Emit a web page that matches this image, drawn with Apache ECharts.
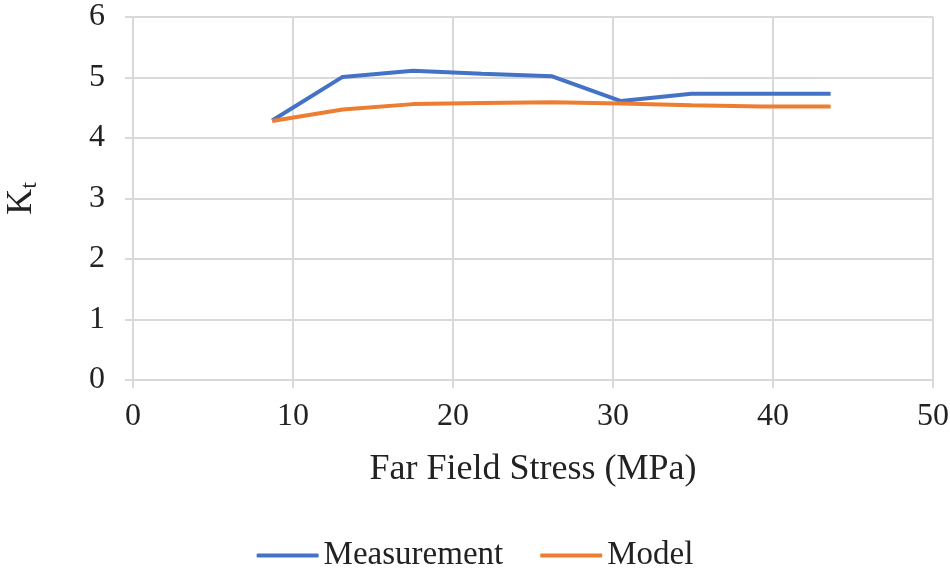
<!DOCTYPE html>
<html><head><meta charset="utf-8">
<script src="https://cdn.jsdelivr.net/npm/echarts@6/dist/echarts.min.js"></script>
<style>html,body{margin:0;padding:0;background:#fff}#c{width:950px;height:571px}</style>
</head><body><div id="c"></div>
<script>
const stress = [8.7, 13.1, 17.5, 21.8, 26.2, 30.5, 34.9, 39.3, 43.6];
const measurement = [4.29, 5.01, 5.11, 5.06, 5.02, 4.61, 4.73, 4.73, 4.73];
const model = [4.28, 4.47, 4.56, 4.58, 4.59, 4.57, 4.54, 4.52, 4.52];
const xTicks = [0, 10, 20, 30, 40, 50];
const yTicks = [0, 1, 2, 3, 4, 5, 6];

const font = 'Liberation Serif';
const grey = '#d9d9d9';
const chart = echarts.init(document.getElementById('c'));
chart.setOption({
  animation: false,
  textStyle: { fontFamily: font, color: '#222' },
  grid: { left: 133, right: 17, top: 17, bottom: 191, containLabel: false, outerBoundsMode: 'none' },
  xAxis: {
    type: 'value', min: xTicks[0], max: xTicks[xTicks.length - 1], interval: 10,
    name: 'Far Field Stress (MPa)', nameLocation: 'middle', nameGap: 72,
    nameTextStyle: { fontFamily: font, fontSize: 36, color: '#222' },
    axisLine: { show: true, lineStyle: { color: grey, width: 2 } },
    axisTick: { show: true, inside: false, length: 8, lineStyle: { color: grey, width: 2 } },
    axisLabel: { fontFamily: font, fontSize: 32, color: '#222', margin: 21 },
    splitLine: { show: true, lineStyle: { color: grey, width: 2 } }
  },
  yAxis: {
    type: 'value', min: yTicks[0], max: yTicks[yTicks.length - 1], interval: 1,
    name: '{k|K}{t|t}', nameLocation: 'middle', nameGap: 93, nameRotate: 90,
    nameTextStyle: {
      fontFamily: font, color: '#222',
      rich: {
        k: { fontFamily: font, fontSize: 36, color: '#222' },
        t: { fontFamily: font, fontSize: 24, color: '#222', padding: [0, 0, -16, 0] }
      }
    },
    axisLine: { show: true, lineStyle: { color: grey, width: 2 } },
    axisTick: { show: true, inside: false, length: 8, lineStyle: { color: grey, width: 2 } },
    axisLabel: { fontFamily: font, fontSize: 32, color: '#222', margin: 28 },
    splitLine: { show: true, lineStyle: { color: grey, width: 2 } }
  },
  legend: {
    top: 534, left: 'center', itemWidth: 62, itemHeight: 4, itemGap: 37,
    icon: 'roundRect',
    textStyle: { fontFamily: font, fontSize: 33, color: '#222' },
    data: ['Measurement', 'Model']
  },
  series: [
    { name: 'Measurement', type: 'line', data: stress.map((x, i) => [x, measurement[i]]),
      symbol: 'none', showSymbol: false, color: '#4472C4',
      lineStyle: { color: '#4472C4', width: 4 } },
    { name: 'Model', type: 'line', data: stress.map((x, i) => [x, model[i]]),
      symbol: 'none', showSymbol: false, color: '#ED7D31',
      lineStyle: { color: '#ED7D31', width: 4 } }
  ]
});
</script></body></html>
